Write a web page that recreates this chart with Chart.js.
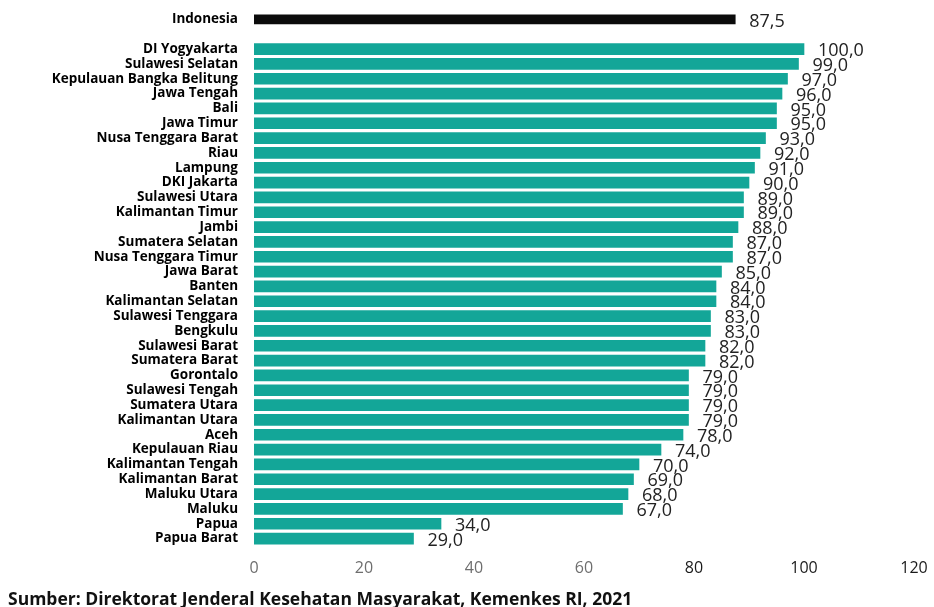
<!DOCTYPE html>
<html>
<head>
<meta charset="utf-8">
<script src="https://cdn.jsdelivr.net/npm/chart.js@4/dist/chart.umd.min.js"></script>
<style>
  html, body { margin: 0; padding: 0; background: #ffffff; }
  #wrap { position: relative; width: 934px; height: 607px; overflow: hidden; }
  #c { position: absolute; left: 0; top: 0; }
  #src { position: absolute; left: 8px; top: 587px; font-family: "Open Sans", sans-serif; font-weight: 700; font-size: 17.5px; color: #111; white-space: nowrap; line-height: 22px; }
</style>
</head>
<body>
<div id="wrap">
  <canvas id="c" width="934" height="607"></canvas>
  <div id="src">Sumber: Direktorat Jenderal Kesehatan Masyarakat, Kemenkes RI, 2021</div>
</div>
<script>
const nationalLabel = 'Indonesia';
const nationalValue = 87.5;

const provinces = [
  'DI Yogyakarta', 'Sulawesi Selatan', 'Kepulauan Bangka Belitung', 'Jawa Tengah', 'Bali',
  'Jawa Timur', 'Nusa Tenggara Barat', 'Riau', 'Lampung', 'DKI Jakarta',
  'Sulawesi Utara', 'Kalimantan Timur', 'Jambi', 'Sumatera Selatan', 'Nusa Tenggara Timur',
  'Jawa Barat', 'Banten', 'Kalimantan Selatan', 'Sulawesi Tenggara', 'Bengkulu',
  'Sulawesi Barat', 'Sumatera Barat', 'Gorontalo', 'Sulawesi Tengah', 'Sumatera Utara',
  'Kalimantan Utara', 'Aceh', 'Kepulauan Riau', 'Kalimantan Tengah', 'Kalimantan Barat',
  'Maluku Utara', 'Maluku', 'Papua', 'Papua Barat'
];

const provinceValues = [
  100, 99, 97, 96, 95,
  95, 93, 92, 91, 90,
  89, 89, 88, 87, 87,
  85, 84, 84, 83, 83,
  82, 82, 79, 79, 79,
  79, 78, 74, 70, 69,
  68, 67, 34, 29
];

const xTicks = [0, 20, 40, 60, 80, 100, 120];

// Build category list: national, blank spacer, provinces
const labels = [nationalLabel, ''].concat(provinces);
const nationalData = [nationalValue, null].concat(provinces.map(() => null));
const provinceData = [null, null].concat(provinceValues);

const PLOT_LEFT = 254;
const PLOT_TOP = 12;
const PLOT_BOTTOM = 546;
const PAD_LEFT = 4;
const PAD_RIGHT = 20;

const valueLabels = {
  id: 'valueLabels',
  afterDatasetsDraw(chart) {
    const ctx = chart.ctx;
    ctx.save();
    ctx.font = '18px "Open Sans", sans-serif';
    ctx.fillStyle = '#222222';
    ctx.textAlign = 'left';
    ctx.textBaseline = 'middle';
    chart.data.datasets.forEach((ds, di) => {
      const meta = chart.getDatasetMeta(di);
      meta.data.forEach((bar, i) => {
        const v = ds.data[i];
        if (v === null || v === undefined) return;
        const txt = v.toFixed(1).replace('.', ',');
        ctx.fillText(txt, bar.x + 14, bar.y + 2);
      });
    });
    ctx.restore();
  }
};

new Chart(document.getElementById('c'), {
  type: 'bar',
  data: {
    labels: labels,
    datasets: [
      {
        label: 'Indonesia',
        data: nationalData,
        backgroundColor: '#0b0b0b',
        barThickness: 9,
        grouped: false
      },
      {
        label: 'Provinsi',
        data: provinceData,
        backgroundColor: '#13A698',
        barThickness: 11,
        grouped: false
      }
    ]
  },
  options: {
    indexAxis: 'y',
    responsive: false,
    animation: false,
    layout: { padding: { left: PAD_LEFT, right: PAD_RIGHT, top: PLOT_TOP, bottom: 0 } },
    plugins: {
      legend: { display: false },
      tooltip: { enabled: false },
      title: { display: false }
    },
    scales: {
      x: {
        type: 'linear',
        min: 0,
        max: 120,
        afterBuildTicks(scale) { scale.ticks = xTicks.map(v => ({ value: v })); },
        afterFit(scale) {
          scale.height = 607 - PLOT_BOTTOM;
          scale.paddingLeft = 0;
          scale.paddingRight = 0;
        },
        grid: { display: false, drawTicks: false },
        border: { display: false },
        ticks: {
          padding: 13,
          font: { family: '"Open Sans", sans-serif', size: 16 },
          color: (c) => (c.tick && c.tick.value >= 80 ? '#1a1a1a' : '#6e6e6e')
        }
      },
      y: {
        afterFit(scale) {
          scale.width = PLOT_LEFT - PAD_LEFT;
          scale.paddingTop = 0;
          scale.paddingBottom = 0;
        },
        grid: { display: false, drawTicks: false },
        border: { display: false },
        ticks: {
          autoSkip: false,
          padding: 16,
          font: { family: '"Open Sans", sans-serif', size: 13.5, weight: 'bold' },
          color: '#000000'
        }
      }
    }
  },
  plugins: [valueLabels]
});
</script>
</body>
</html>
